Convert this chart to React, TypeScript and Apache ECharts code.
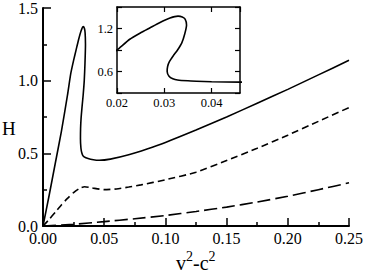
import React, { useEffect, useRef } from "react";
import * as echarts from "echarts";

const solidX = [0, 0.005, 0.01, 0.015, 0.02, 0.0227, 0.025, 0.027, 0.029, 0.0312, 0.0329, 0.0338, 0.0344, 0.0347, 0.0343, 0.0337, 0.0328, 0.0319, 0.0311, 0.0307, 0.0306, 0.031, 0.0318, 0.0328, 0.035, 0.0368, 0.04, 0.046, 0.055, 0.07, 0.085, 0.1, 0.125, 0.15, 0.175, 0.2, 0.225, 0.25];
const solidY = [0, 0.21, 0.43, 0.65, 0.9, 1.05, 1.14, 1.21, 1.28, 1.345, 1.372, 1.36, 1.33, 1.25, 1.12, 1.0, 0.9, 0.82, 0.74, 0.67, 0.6, 0.535, 0.5, 0.482, 0.47, 0.465, 0.458, 0.452, 0.46, 0.49, 0.53, 0.575, 0.66, 0.75, 0.845, 0.94, 1.04, 1.14];

const shortDashX = [0, 0.005, 0.01, 0.015, 0.02, 0.025, 0.03, 0.034, 0.04, 0.05, 0.06, 0.07, 0.08, 0.1, 0.125, 0.15, 0.175, 0.2, 0.225, 0.25];
const shortDashY = [0, 0.045, 0.095, 0.145, 0.19, 0.23, 0.26, 0.27, 0.262, 0.25, 0.255, 0.268, 0.283, 0.318, 0.37, 0.45, 0.535, 0.625, 0.72, 0.815];

const longDashX = [0, 0.025, 0.05, 0.075, 0.1, 0.125, 0.15, 0.175, 0.2, 0.225, 0.25];
const longDashY = [0, 0.012, 0.03, 0.05, 0.072, 0.1, 0.13, 0.165, 0.205, 0.25, 0.297];

const mainXTicks = [0, 0.05, 0.1, 0.15, 0.2, 0.25];
const mainYTicks = [0, 0.5, 1.0, 1.5];
const insetXTicks = [0.02, 0.03, 0.04];
const insetYLabels = [0.6, 1.2];

const pairs = (xs: number[], ys: number[]) => xs.map((x, i) => [x, ys[i]]);

export default function App() {
  const ref = useRef<HTMLDivElement>(null);
  useEffect(() => {
    if (!ref.current) return;
    const chart = echarts.init(ref.current, null, { renderer: "svg" });
    const font = "Liberation Serif";
    const black = "#000";
    const solid = pairs(solidX, solidY);
    const shortD = pairs(shortDashX, shortDashY);
    const longD = pairs(longDashX, longDashY);
    const mainAxisCommon = {
      axisLine: { show: true, onZero: false, lineStyle: { color: black, width: 2 } },
      axisTick: { show: true, inside: true, length: 8, lineStyle: { color: black, width: 1.5 } },
      minorTick: { show: true, splitNumber: 2, length: 4, lineStyle: { color: black, width: 1.5 } },
      splitLine: { show: false },
      minorSplitLine: { show: false },
    };
    const insetAxisCommon = {
      axisLine: { show: true, onZero: false, lineStyle: { color: black, width: 1.5 } },
      axisTick: { show: true, inside: true, length: 5, lineStyle: { color: black, width: 1.2 } },
      splitLine: { show: false },
    };
    chart.setOption({
      animation: false,
      backgroundColor: "#fff",
      textStyle: { fontFamily: font },
      grid: [
        { left: 43, right: 17, top: 7, bottom: 47 },
        { left: 117, right: 126, top: 7, bottom: 180, show: true, backgroundColor: "#fff", borderWidth: 0 },
      ],
      xAxis: [
        {
          type: "value", gridIndex: 0, min: mainXTicks[0], max: mainXTicks[mainXTicks.length - 1], interval: 0.05,
          ...mainAxisCommon,
          axisLabel: { color: black, fontFamily: font, fontSize: 16, margin: 4, formatter: (v: number) => v.toFixed(2) },
        },
        {
          type: "value", gridIndex: 1, min: 0.02, max: 0.046, interval: 0.01, position: "bottom",
          ...insetAxisCommon,
          axisLabel: { color: black, fontFamily: font, fontSize: 12.5, margin: 3, showMaxLabel: false, formatter: (v: number) => (insetXTicks.some((t) => Math.abs(t - v) < 1e-9) ? v.toFixed(2) : "") },
        },
        {
          type: "value", gridIndex: 1, min: 0.02, max: 0.046, interval: 0.01, position: "top",
          ...insetAxisCommon,
          axisLabel: { show: false },
        },
      ],
      yAxis: [
        {
          type: "value", gridIndex: 0, min: mainYTicks[0], max: mainYTicks[mainYTicks.length - 1], interval: 0.5,
          ...mainAxisCommon,
          axisLabel: { color: black, fontFamily: font, fontSize: 16, margin: 5, formatter: (v: number) => v.toFixed(1) },
        },
        {
          type: "value", gridIndex: 1, min: 0.3, max: 1.5, interval: 0.3, position: "left",
          ...insetAxisCommon,
          axisLabel: { color: black, fontFamily: font, fontSize: 12.5, margin: 4, formatter: (v: number) => (insetYLabels.some((t) => Math.abs(t - v) < 1e-9) ? v.toFixed(1) : "") },
        },
        {
          type: "value", gridIndex: 1, min: 0.3, max: 1.5, interval: 0.3, position: "right",
          ...insetAxisCommon,
          axisLabel: { show: false },
        },
      ],
      series: [
        { type: "line", xAxisIndex: 0, yAxisIndex: 0, data: solid, showSymbol: false, smooth: 0.2, lineStyle: { color: black, width: 1.6 } },
        { type: "line", xAxisIndex: 0, yAxisIndex: 0, data: shortD, showSymbol: false, smooth: 0.2, lineStyle: { color: black, width: 1.6, type: [7, 4] } },
        { type: "line", xAxisIndex: 0, yAxisIndex: 0, data: longD, showSymbol: false, smooth: 0.2, lineStyle: { color: black, width: 1.6, type: [13, 5] } },
        { type: "line", xAxisIndex: 1, yAxisIndex: 1, data: solid, showSymbol: false, smooth: 0.2, clip: true, lineStyle: { color: black, width: 1.6 } },
      ],
      graphic: [
        { type: "text", x: 2, y: 128, style: { text: "H", fontFamily: font, fontSize: 19, fill: black, verticalAlign: "middle" } },
        {
          type: "text", x: 176, y: 273,
          style: {
            text: "{a|v}{s|2}{a|-c}{s|2}",
            fontFamily: font,
            fill: black,
            verticalAlign: "bottom",
            rich: {
              a: { fontFamily: font, fontSize: 20, lineHeight: 24, verticalAlign: "bottom", fill: black },
              s: { fontFamily: font, fontSize: 14, lineHeight: 14, verticalAlign: "top", fill: black },
            },
          },
        },
      ],
    });
    return () => chart.dispose();
  }, []);
  return <div ref={ref} style={{ position: "fixed", left: 0, top: 0, width: 366, height: 273 }} />;
}
